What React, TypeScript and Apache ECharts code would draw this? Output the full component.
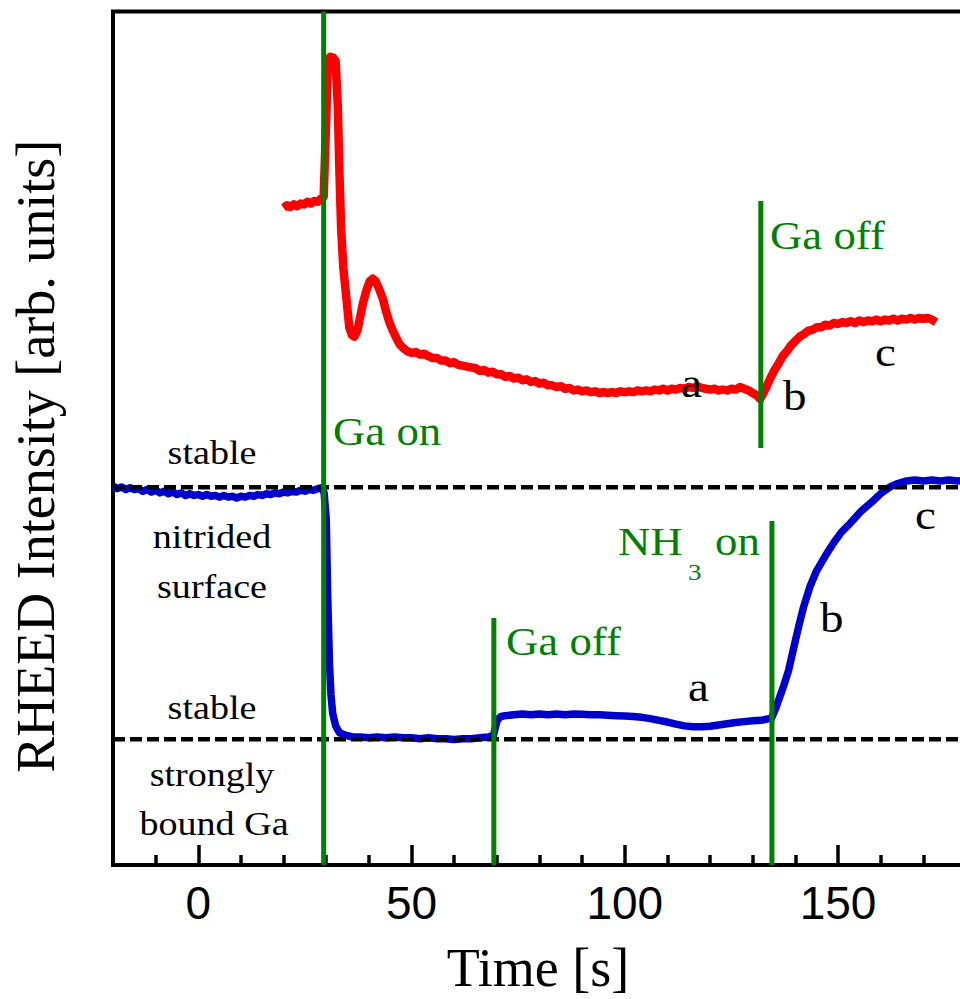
import React, { useEffect, useRef } from "react";
import * as echarts from "echarts";

// ---- data (time in s, intensity in arbitrary units 0..100) ----
const redTrace: [number, number][] = [
  [20.0, 77.0], [20.8, 77.3], [21.6, 77.1], [22.4, 77.4], [23.2, 77.2], [24.0, 77.5], [24.8, 77.4],
  [25.6, 77.7], [26.4, 77.5], [27.2, 77.8], [28.0, 77.7], [28.8, 78.1], [29.4, 78.3],
  [30.0, 87.5], [30.4, 94.4], [31.0, 94.7], [31.6, 94.6], [32.2, 94.2], [32.7, 89.0], [33.1, 81.0],
  [33.5, 74.5], [34.0, 70.0], [34.7, 66.5], [35.4, 63.0], [36.0, 62.1], [36.6, 61.9], [37.3, 62.6],
  [38.0, 64.3], [38.6, 65.8], [39.4, 67.3], [40.2, 68.4], [40.9, 68.7], [41.6, 68.4], [42.4, 67.5],
  [43.3, 66.3], [44.0, 64.9], [44.8, 63.6], [45.6, 62.6], [46.4, 61.8], [47.2, 61.0], [48.0, 60.6],
  [49.0, 60.2], [50.0, 60.0], [51.0, 60.1], [52.0, 59.8], [53.0, 59.9], [54.0, 59.6], [55.0, 59.4],
  [56.0, 59.4], [57.0, 59.1], [58.0, 59.1], [59.0, 58.8], [60.0, 58.9], [61, 58.6], [62, 58.5],
  [63, 58.4], [64, 58.3], [65, 58.2], [66, 57.9], [67, 58.0], [68, 57.7], [69, 57.8], [70, 57.5],
  [71, 57.5], [72, 57.2], [73, 57.3], [74, 57.0], [75, 57.1], [76, 56.8], [77, 56.9], [78, 56.6],
  [79, 56.7], [80, 56.4], [81, 56.5], [82, 56.2], [83, 56.2], [84, 56.0], [85, 56.1], [86, 55.8],
  [87, 55.9], [88, 55.6], [89, 55.7], [90, 55.5], [91, 55.6], [92, 55.4], [93, 55.5], [94, 55.3],
  [95, 55.4], [96, 55.3], [97, 55.4], [98, 55.3], [99, 55.5], [100, 55.4], [101, 55.5], [102, 55.4],
  [103, 55.6], [104, 55.5], [105, 55.6], [106, 55.5], [107, 55.7], [108, 55.6], [109, 55.8],
  [110, 55.6], [111, 55.8], [112, 55.7], [113, 55.9], [114, 55.8], [115, 56.0], [116, 55.9],
  [117, 56.1], [118, 55.9], [119, 55.8], [120, 55.7], [121, 55.8], [122, 55.6], [123, 55.7],
  [124, 55.6], [125, 55.8], [126, 55.7], [127, 56.0], [128, 55.8], [129, 55.6], [130, 55.3],
  [131, 55.0], [131.7, 54.6], [132.4, 55.2], [133.2, 56.0], [134, 56.9], [135, 57.9], [136, 58.7],
  [137, 59.6], [138, 60.2], [139, 60.9], [140, 61.4], [141, 61.9], [142, 62.2], [143, 62.6],
  [144, 62.7], [145, 63.0], [146, 63.0], [147, 63.3], [148, 63.2], [149, 63.5], [150, 63.4],
  [151, 63.6], [152, 63.5], [153, 63.7], [154, 63.5], [155, 63.8], [156, 63.6], [157, 63.8],
  [158, 63.7], [159, 63.9], [160, 63.7], [161, 63.9], [162, 63.8], [163, 64.0], [164, 63.8],
  [165, 64.0], [166, 63.9], [167, 64.1], [168, 63.9], [169, 64.1], [170, 64.0], [171, 64.1],
  [172, 63.9], [173, 63.6],
];

const blueTrace: [number, number][] = [
  [-20, 44.4], [-19, 44.1], [-18, 44.3], [-17, 44.0], [-16, 44.2], [-15, 44.0], [-14, 44.1],
  [-13, 43.8], [-12, 44.0], [-11, 43.7], [-10, 43.9], [-9, 43.6], [-8, 43.8], [-7, 43.5],
  [-6, 43.7], [-5, 43.4], [-4, 43.6], [-3, 43.3], [-2, 43.5], [-1, 43.3], [0, 43.4], [1, 43.2],
  [2, 43.4], [3, 43.2], [4, 43.3], [5, 43.1], [6, 43.3], [7, 43.1], [8, 43.2], [9, 43.0],
  [10, 43.2], [11, 43.1], [12, 43.3], [13, 43.2], [14, 43.4], [15, 43.3], [16, 43.5], [17, 43.4],
  [18, 43.6], [19, 43.5], [20, 43.7], [21, 43.6], [22, 43.8], [23, 43.7], [24, 43.9], [25, 43.8],
  [26, 44.0], [27, 43.9], [28, 44.1], [29, 44.2], [29.5, 43.6], [30.0, 40.5], [30.35, 31.4],
  [30.75, 23.7], [31.1, 20.0], [31.5, 17.8], [32.2, 16.3], [33.1, 15.5], [34.5, 15.2], [36.2, 15.0],
  [38, 15.0], [40, 14.9], [42, 15.0], [44, 14.9], [46, 15.0], [48, 14.9], [50, 14.9], [52, 14.8],
  [54, 14.9], [56, 14.8], [58, 14.8], [60, 14.7], [62, 14.8], [64, 14.8], [66, 14.9], [68, 15.0],
  [69.2, 15.2], [69.6, 16.0], [70.0, 16.8], [70.5, 17.2], [71, 17.4], [72, 17.5], [74, 17.6],
  [76, 17.7], [78, 17.6], [80, 17.7], [82, 17.6], [84, 17.7], [86, 17.6], [88, 17.7], [90, 17.65],
  [92, 17.6], [94, 17.6], [96, 17.55], [98, 17.5], [100, 17.45], [102, 17.4], [104, 17.3],
  [106, 17.15], [108, 16.95], [110, 16.75], [112, 16.5], [114, 16.3], [116, 16.2], [118, 16.2],
  [120, 16.25], [122, 16.4], [124, 16.55], [126, 16.7], [128, 16.8], [130, 16.9], [132, 16.95],
  [134.4, 17.2], [135.5, 18.5], [137.2, 20.9], [138.4, 22.8], [139.5, 25.2], [140.7, 27.8],
  [141.9, 30.2], [143.4, 32.6], [145, 34.5], [147, 36.2], [148.9, 37.7], [150.8, 39.0],
  [152.8, 40.0], [155.5, 41.5], [158.3, 42.7], [160.2, 43.6], [162.2, 44.3], [164, 44.7],
  [166.1, 45.0], [168, 45.1], [170, 45.0], [172, 45.1], [174, 45.0], [176, 45.1], [178, 45.0],
  [180, 45.1],
];

// stable levels (dashed)
const nitridedLevel = 44.25;
const galliumLevel = 14.73;

// event markers: time and vertical extent
const gaOnTime = 29.4;
const gaOnSpan = [0, 100];
const gaOffRedTime = 131.9;
const gaOffRedSpan = [48.86, 77.8];
const gaOffBlueTime = 69.3;
const gaOffBlueSpan = [0, 28.94];
const nh3OnTime = 134.5;
const nh3OnSpan = [0, 40.3];

const xMin = -20;
const xMax = 179.3;
const majorTicks = [0, 50, 100, 150];
const minorTicks = [-10, 10, 20, 30, 40, 60, 70, 80, 90, 110, 120, 130, 140, 160, 170];

const SERIF = '"Liberation Serif", "Times New Roman", serif';
const SANS = '"Liberation Sans", Arial, sans-serif';
const GREEN = "#008000";
const SX = 1.12;

function txt(text: string, x: number, y: number, size: number, color: string, align = "left") {
  return {
    type: "text",
    x,
    y,
    scaleX: SX,
    z: 100,
    silent: true,
    style: {
      text,
      font: `${size}px "Liberation Serif", "Times New Roman", serif`,
      fill: color,
      align,
      verticalAlign: "middle",
    },
  };
}

export default function App() {
  const ref = useRef<HTMLDivElement>(null);
  useEffect(() => {
    if (!ref.current) return;
    const chart = echarts.init(ref.current, undefined, { renderer: "svg" });

    const vline = (t: number, span: number[]) => ({
      type: "line",
      data: [[t, span[0]], [t, span[1]]],
      symbol: "none",
      lineStyle: { color: GREEN, width: 5, cap: "butt" },
      z: 5,
      silent: true,
    });
    const hline = (v: number) => ({
      type: "line",
      data: [[xMin, v], [xMax, v]],
      symbol: "none",
      lineStyle: { color: "#000", width: 4.5, type: [12, 5] },
      z: 4,
      silent: true,
    });

    const option: any = {
      animation: false,
      backgroundColor: "#fff",
      grid: {
        left: 113,
        right: -3,
        top: 11.5,
        bottom: 134,
        show: true,
        borderColor: "#000",
        borderWidth: 4,
        backgroundColor: "transparent",
        outerBoundsMode: "none",
        containLabel: false,
      },
      xAxis: [
        {
          type: "value",
          position: "bottom",
          min: xMin,
          max: xMax,
          axisLine: { show: false, onZero: false },
          axisTick: {
            show: true,
            inside: true,
            length: 20,
            customValues: majorTicks,
            lineStyle: { color: "#000", width: 3.5 },
          },
          axisLabel: {
            show: true,
            customValues: majorTicks,
            fontSize: 46,
            fontFamily: SANS,
            color: "#000",
            margin: 15,
          },
          splitLine: { show: false },
          name: "Time [s]",
          nameLocation: "middle",
          nameGap: 76,
          nameTextStyle: { fontSize: 54, fontFamily: SERIF, color: "#000" },
        },
        {
          type: "value",
          position: "top",
          offset: -853.5,
          min: xMin,
          max: xMax,
          axisLine: { show: false, onZero: false },
          axisTick: {
            show: true,
            inside: false,
            length: 10,
            customValues: minorTicks,
            lineStyle: { color: "#000", width: 3.5 },
          },
          axisLabel: { show: false },
          splitLine: { show: false },
        },
      ],
      yAxis: {
        type: "value",
        min: 0,
        max: 100,
        axisLine: { show: false },
        axisTick: { show: false },
        axisLabel: { show: false },
        splitLine: { show: false },
        name: "RHEED Intensity [arb. units]",
        nameLocation: "middle",
        nameRotate: 90,
        nameGap: 50,
        nameTextStyle: {
          fontSize: 54,
          fontFamily: SERIF,
          color: "#000",
          padding: [0, 36, 0, 0],
        },
      },
      series: [
        {
          name: "Ga-rich",
          type: "line",
          data: redTrace,
          symbol: "none",
          lineStyle: { color: "#ff0000", width: 8.5, join: "round" },
          z: 2,
        },
        {
          name: "N-rich",
          type: "line",
          data: blueTrace,
          symbol: "none",
          lineStyle: { color: "#0000cd", width: 7.5, join: "round" },
          z: 2,
        },
        hline(nitridedLevel),
        hline(galliumLevel),
        vline(gaOnTime, gaOnSpan),
        vline(gaOffRedTime, gaOffRedSpan),
        vline(gaOffBlueTime, gaOffBlueSpan),
        vline(nh3OnTime, nh3OnSpan),
      ],
      graphic: [
        txt("Ga on", 333, 431.5, 40, GREEN),
        txt("Ga off", 770, 235.5, 40, GREEN),
        txt("Ga off", 506, 641.5, 40, GREEN),
        txt("NH", 618, 541.5, 40, GREEN),
        txt("3", 688, 572, 24, GREEN),
        txt("on", 715, 541.5, 40, GREEN),
        txt("a", 681, 383.3, 42, "#000"),
        txt("b", 783, 395.8, 42, "#000"),
        txt("c", 875, 351.8, 42, "#000"),
        txt("a", 688, 686.8, 42, "#000"),
        txt("b", 820, 617.8, 42, "#000"),
        txt("c", 915, 514.8, 42, "#000"),
        txt("stable", 212, 452.5, 34, "#000", "center"),
        txt("nitrided", 212, 536.5, 34, "#000", "center"),
        txt("surface", 212, 586.5, 34, "#000", "center"),
        txt("stable", 212, 707.5, 34, "#000", "center"),
        txt("strongly", 212, 775, 34, "#000", "center"),
        txt("bound Ga", 214, 824, 34, "#000", "center"),
      ],
    };
    chart.setOption(option);
    return () => chart.dispose();
  }, []);

  return (
    <div
      ref={ref}
      style={{ position: "absolute", left: 0, top: 0, width: 960, height: 999, background: "#fff" }}
    />
  );
}
